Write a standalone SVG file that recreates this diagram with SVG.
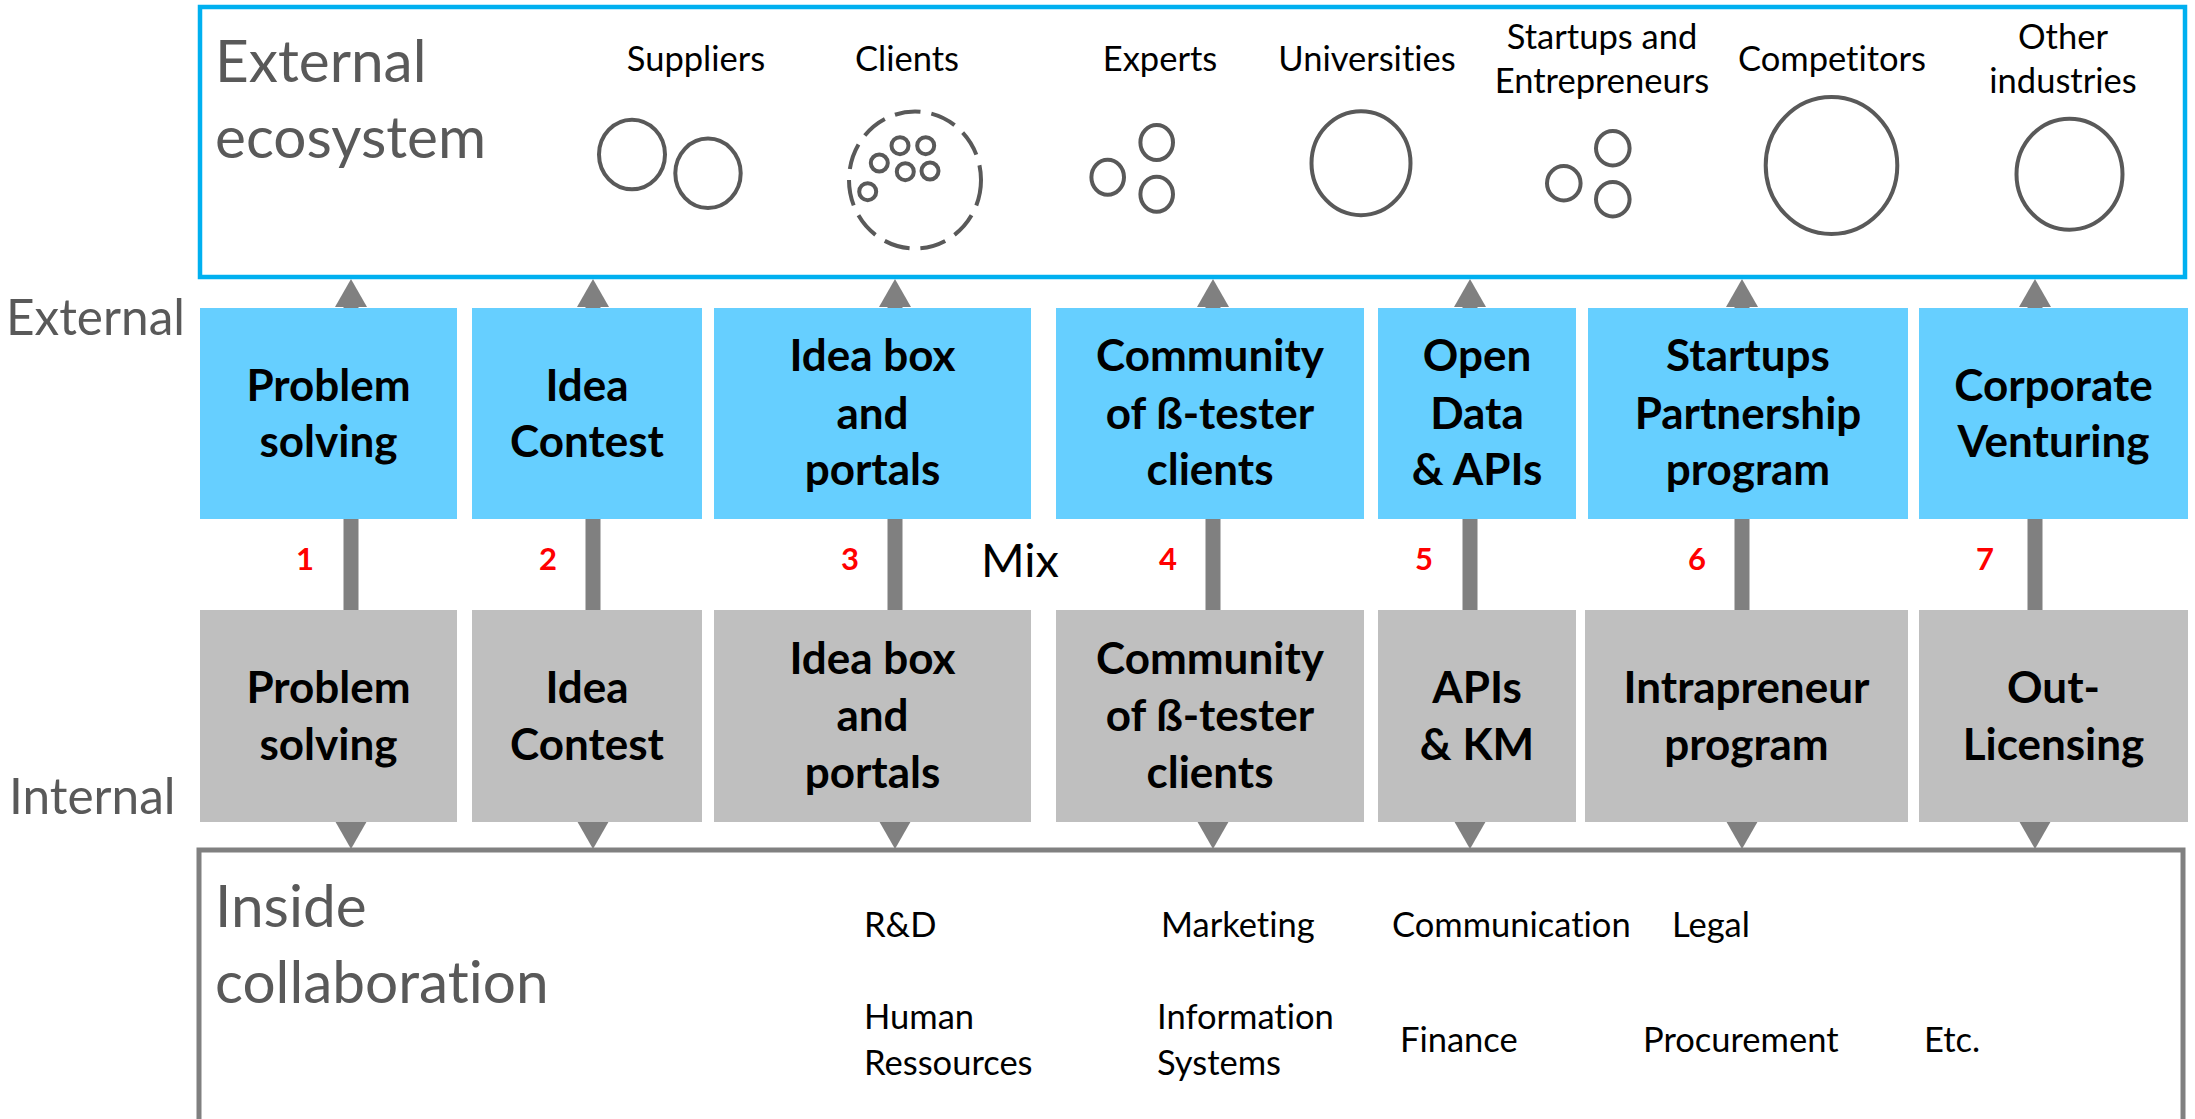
<svg xmlns="http://www.w3.org/2000/svg" width="2195" height="1119" viewBox="0 0 2195 1119">
<defs>
<style>
text{font-variant-ligatures:none}
.big{font-family:Lato,"Open Sans","Liberation Sans",sans-serif;font-size:58.5px;fill:#595959}
.side{font-family:Lato,"Open Sans","Liberation Sans",sans-serif;font-size:49.5px;fill:#595959}
.eco{font-family:Lato,"Open Sans","Liberation Sans",sans-serif;font-size:34.5px;fill:#000;text-anchor:middle}
.dept{font-family:Lato,"Open Sans","Liberation Sans",sans-serif;font-size:34.5px;fill:#000}
.bt{font-family:Lato,"Open Sans","Liberation Sans",sans-serif;font-size:44px;font-weight:bold;fill:#000;text-anchor:middle}
.num{font-family:Lato,"Open Sans","Liberation Sans",sans-serif;font-size:31px;font-weight:bold;fill:#FF0000;text-anchor:middle}
.mix{font-family:Lato,"Open Sans","Liberation Sans",sans-serif;font-size:47px;fill:#000}
.ext{fill:#66CFFF}
.int{fill:#BFBFBF}
.ring{fill:none;stroke:#595959;stroke-width:4}
.conn{stroke:#808080;stroke-width:15;fill:none;marker-start:url(#head);marker-end:url(#head)}
</style>
<marker id="head" viewBox="0 0 28 32" refX="0" refY="16" markerWidth="28" markerHeight="32" markerUnits="userSpaceOnUse" orient="auto-start-reverse">
<path d="M0,0 L28,16 L0,32 Z" fill="#808080"/>
</marker>
</defs>
<rect width="2195" height="1119" fill="#fff"/>

<g id="connectors">
<line class="conn" x1="351" y1="307" x2="351" y2="821"/>
<line class="conn" x1="593" y1="307" x2="593" y2="821"/>
<line class="conn" x1="895" y1="307" x2="895" y2="821"/>
<line class="conn" x1="1213" y1="307" x2="1213" y2="821"/>
<line class="conn" x1="1470" y1="307" x2="1470" y2="821"/>
<line class="conn" x1="1742" y1="307" x2="1742" y2="821"/>
<line class="conn" x1="2035" y1="307" x2="2035" y2="821"/>
</g>

<g id="ecosystem">
<rect x="200" y="7" width="1985" height="270" fill="none" stroke="#00B0F0" stroke-width="4.5"/>
<text class="big" x="215" y="82">External</text>
<text class="big" x="215" y="158">ecosystem</text>
<text class="eco" x="696" y="71">Suppliers</text>
<text class="eco" x="907" y="71">Clients</text>
<text class="eco" x="1160" y="71">Experts</text>
<text class="eco" x="1367" y="71">Universities</text>
<text class="eco" x="1602" y="49">Startups and</text>
<text class="eco" x="1602" y="93">Entrepreneurs</text>
<text class="eco" x="1832" y="71">Competitors</text>
<text class="eco" x="2063" y="49">Other</text>
<text class="eco" x="2063" y="93">industries</text>
<ellipse class="ring" cx="632" cy="154.5" rx="33" ry="34.7"/>
<ellipse class="ring" cx="708" cy="173.3" rx="32.7" ry="34.7"/>
<ellipse class="ring" cx="915" cy="180" rx="66" ry="68.5" stroke-width="3.4" stroke-dasharray="26 11"/>
<g class="ring" stroke-width="3.4">
<circle cx="900" cy="145.7" r="8.5"/>
<circle cx="925.7" cy="145.7" r="8.5"/>
<circle cx="879.3" cy="163" r="8.5"/>
<circle cx="905.3" cy="171.7" r="8.5"/>
<circle cx="930" cy="171" r="8.5"/>
<circle cx="867.7" cy="191.7" r="8.5"/>
</g>
<ellipse class="ring" cx="1107.7" cy="177.2" rx="16.3" ry="17.5"/>
<ellipse class="ring" cx="1156.7" cy="142.5" rx="16.3" ry="17.5"/>
<ellipse class="ring" cx="1156.7" cy="194.2" rx="16.3" ry="17.5"/>
<ellipse class="ring" cx="1361" cy="163.2" rx="49.5" ry="52"/>
<ellipse class="ring" cx="1563.8" cy="183.2" rx="16.8" ry="17.2"/>
<ellipse class="ring" cx="1612.8" cy="148.3" rx="16.8" ry="17.2"/>
<ellipse class="ring" cx="1612.8" cy="199.2" rx="16.8" ry="17.2"/>
<ellipse class="ring" cx="1831.5" cy="165.5" rx="65.8" ry="68.5"/>
<ellipse class="ring" cx="2069.5" cy="174.2" rx="53" ry="55.5"/>
</g>

<g id="side-labels">
<text class="side" x="6" y="335">External</text>
<text class="side" x="9" y="814">Internal</text>
</g>

<g id="ext-1"><rect class="ext" x="200" y="308" width="257" height="211"/>
<text class="bt" x="328.5" y="401">Problem</text><text class="bt" x="328.5" y="457">solving</text></g>
<g id="ext-2"><rect class="ext" x="472" y="308" width="230" height="211"/>
<text class="bt" x="587" y="401">Idea</text><text class="bt" x="587" y="457">Contest</text></g>
<g id="ext-3"><rect class="ext" x="714" y="308" width="317" height="211"/>
<text class="bt" x="872.5" y="371">Idea box</text><text class="bt" x="872.5" y="429">and</text><text class="bt" x="872.5" y="485">portals</text></g>
<g id="ext-4"><rect class="ext" x="1056" y="308" width="308" height="211"/>
<text class="bt" x="1210" y="371">Community</text><text class="bt" x="1210" y="429">of ß-tester</text><text class="bt" x="1210" y="485">clients</text></g>
<g id="ext-5"><rect class="ext" x="1378" y="308" width="198" height="211"/>
<text class="bt" x="1477" y="371">Open</text><text class="bt" x="1477" y="429">Data</text><text class="bt" x="1477" y="485">&amp; APIs</text></g>
<g id="ext-6"><rect class="ext" x="1588" y="308" width="320" height="211"/>
<text class="bt" x="1748" y="371">Startups</text><text class="bt" x="1748" y="429">Partnership</text><text class="bt" x="1748" y="485">program</text></g>
<g id="ext-7"><rect class="ext" x="1919" y="308" width="269" height="211"/>
<text class="bt" x="2053.5" y="401">Corporate</text><text class="bt" x="2053.5" y="457">Venturing</text></g>

<g id="int-1"><rect class="int" x="200" y="610" width="257" height="212"/>
<text class="bt" x="328.5" y="703">Problem</text><text class="bt" x="328.5" y="760">solving</text></g>
<g id="int-2"><rect class="int" x="472" y="610" width="230" height="212"/>
<text class="bt" x="587" y="703">Idea</text><text class="bt" x="587" y="760">Contest</text></g>
<g id="int-3"><rect class="int" x="714" y="610" width="317" height="212"/>
<text class="bt" x="872.5" y="674">Idea box</text><text class="bt" x="872.5" y="731">and</text><text class="bt" x="872.5" y="788">portals</text></g>
<g id="int-4"><rect class="int" x="1056" y="610" width="308" height="212"/>
<text class="bt" x="1210" y="674">Community</text><text class="bt" x="1210" y="731">of ß-tester</text><text class="bt" x="1210" y="788">clients</text></g>
<g id="int-5"><rect class="int" x="1378" y="610" width="198" height="212"/>
<text class="bt" x="1477" y="703">APIs</text><text class="bt" x="1477" y="760">&amp; KM</text></g>
<g id="int-6"><rect class="int" x="1585" y="610" width="323" height="212"/>
<text class="bt" x="1746.5" y="703">Intrapreneur</text><text class="bt" x="1746.5" y="760">program</text></g>
<g id="int-7"><rect class="int" x="1919" y="610" width="269" height="212"/>
<text class="bt" x="2053.5" y="703">Out-</text><text class="bt" x="2053.5" y="760">Licensing</text></g>

<g id="numbers">
<text class="num" x="305" y="570">1</text>
<text class="num" x="548" y="570">2</text>
<text class="num" x="850" y="570">3</text>
<text class="num" x="1168" y="570">4</text>
<text class="num" x="1424" y="570">5</text>
<text class="num" x="1697" y="570">6</text>
<text class="num" x="1985" y="570">7</text>
<text class="mix" x="981" y="577">Mix</text>
</g>

<g id="inside">
<rect x="199" y="850" width="1984" height="272" fill="none" stroke="#808080" stroke-width="5"/>
<text class="big" x="215" y="927">Inside</text>
<text class="big" x="215" y="1003">collaboration</text>
<text class="dept" x="864" y="937">R&amp;D</text>
<text class="dept" x="1161" y="937">Marketing</text>
<text class="dept" x="1392" y="937">Communication</text>
<text class="dept" x="1672" y="937">Legal</text>
<text class="dept" x="864" y="1029">Human</text>
<text class="dept" x="864" y="1075">Ressources</text>
<text class="dept" x="1157" y="1029">Information</text>
<text class="dept" x="1157" y="1075">Systems</text>
<text class="dept" x="1400" y="1052">Finance</text>
<text class="dept" x="1643" y="1052">Procurement</text>
<text class="dept" x="1924" y="1052">Etc.</text>
</g>
</svg>
